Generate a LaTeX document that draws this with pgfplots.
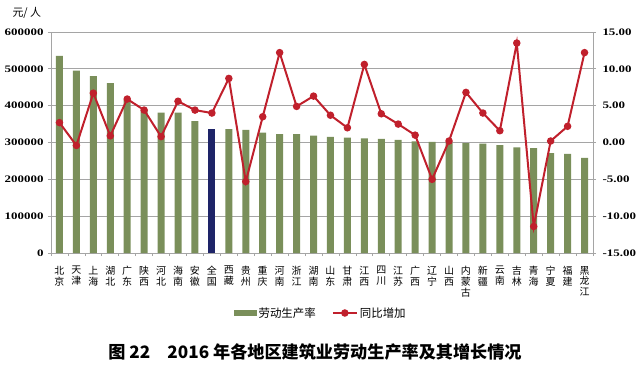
\documentclass[border=0pt]{standalone}
\usepackage{pgfplots}
\pgfplotsset{compat=1.18}
\usepackage{pgfplotstable}
\usepackage{fontspec}
\setmainfont{Liberation Serif}
\newfontfamily\cjk{Noto Sans CJK SC}
\newfontfamily\numf{Liberation Serif}[FakeStretch=1.3]
\definecolor{barg}{RGB}{122,143,90}
\definecolor{navyb}{RGB}{30,36,104}
\definecolor{lred}{RGB}{192,32,44}
\definecolor{gridc}{RGB}{165,165,165}

\pgfplotstableread{
x prod chg
0 535000 2.7
1 495000 -0.4
2 480000 6.7
3 461000 0.9
4 415000 5.9
5 388000 4.4
6 381000 0.8
7 381000 5.6
8 358000 4.4
9 338000 4.0
10 336000 8.7
11 334000 -5.3
12 327000 3.5
13 323000 12.2
14 323000 4.9
15 319000 6.3
16 315000 3.7
17 313000 2.0
18 311000 10.6
19 310000 3.9
20 307000 2.5
21 303000 1.0
22 302000 -5.0
23 300000 0.2
24 298000 6.8
25 297000 4.0
26 293000 1.6
27 287000 13.5
28 285000 -11.4
29 271000 0.2
30 269000 2.2
31 258000 12.2
}\data

\begin{document}
\begin{tikzpicture}
\useasboundingbox (0bp,0bp) rectangle (640bp,-374bp);
\begin{axis}[
  at={(51bp,-253bp)}, anchor=south west,
  scale only axis, width=542bp, height=221bp,
  xmin=-0.5, xmax=31.5, ymin=0, ymax=600000,
  axis x line*=bottom, axis y line*=left,
  axis line style={gridc, line width=0.8bp},
  ytick={0,100000,...,600000},
  ymajorgrids, grid style={gridc, line width=0.8bp},
  xtick={0,...,31},
  xticklabels={{北\\京},{天\\津},{上\\海},{湖\\北},{广\\东},{陕\\西},{河\\北},{海\\南},{安\\徽},{全\\国},{西\\藏},{贵\\州},{重\\庆},{河\\南},{浙\\江},{湖\\南},{山\\东},{甘\\肃},{江\\西},{四\\川},{江\\苏},{广\\西},{辽\\宁},{山\\西},{内\\蒙\\古},{新\\疆},{云\\南},{吉\\林},{青\\海},{宁\\夏},{福\\建},{黑\\龙\\江}},
  major x tick style={draw=none},
  minor xtick={-0.5,0.5,...,31.5},
  tick align=outside, major tick length=3bp, minor tick length=3bp,
  tick style={gridc, line width=0.7bp},
  scaled y ticks=false,
  /pgf/number format/assume math mode=true,
  yticklabel={\pgfmathprintnumber[fixed,1000 sep={}]{\tick}},
  yticklabel style={font=\numf\bfseries\fontsize{10}{12}\selectfont, xshift=-1bp},
  xticklabel style={font=\cjk\fontsize{10}{10.8}\selectfont, align=center, anchor=north, yshift=-10bp, inner sep=0pt},
  ybar, bar width=7bp, bar shift=0pt,
]
\addplot[fill=barg, draw=none, skip coords between index={9}{10}] table[x=x, y=prod] {\data};
\addplot[fill=navyb, draw=none] coordinates {(9,338000)};
\end{axis}
\begin{axis}[
  at={(51bp,-253bp)}, anchor=south west,
  scale only axis, width=542bp, height=221bp,
  xmin=-0.5, xmax=31.5, ymin=-15, ymax=15,
  axis x line=none, axis y line*=right,
  axis line style={gridc, line width=0.8bp},
  ytick={-15,-10,...,15},
  tick align=outside, major tick length=3bp,
  tick style={gridc, line width=0.7bp},
  /pgf/number format/assume math mode=true,
  yticklabel={\pgfmathprintnumber[fixed,fixed zerofill,precision=2]{\tick}},
  yticklabel style={font=\numf\bfseries\fontsize{10}{12}\selectfont, xshift=3bp},
  legend style={at={(0.498,-0.2715)}, anchor=center, draw=none, fill=none,
    font=\cjk\fontsize{11.5}{13}\selectfont, legend columns=2,
    /tikz/every even column/.append style={column sep=14bp}},
]
\addlegendimage{legend image code/.code={\fill[barg] (0bp,-2.5bp) rectangle (22bp,2.5bp);}}
\addlegendentry{劳动生产率}
\addplot[lred, line width=2bp, mark=*, mark size=2.7bp, mark options={fill=lred, draw=lred},
  legend image code/.code={\draw[lred, line width=2bp] (0bp,0bp)--(24bp,0bp); \fill[lred] (12bp,0bp) circle (2.7bp);}]
  table[x=x, y=chg] {\data};
\addlegendentry{同比增加}
\end{axis}
\node[font=\cjk\fontsize{11}{13}\selectfont, anchor=west] at (9bp,-13bp) {元/ 人};
\node[font=\cjk\bfseries\fontsize{17.2}{19}\selectfont] at (315bp,-352bp) {图 22\quad 2016 年各地区建筑业劳动生产率及其增长情况};
\end{tikzpicture}
\end{document}
